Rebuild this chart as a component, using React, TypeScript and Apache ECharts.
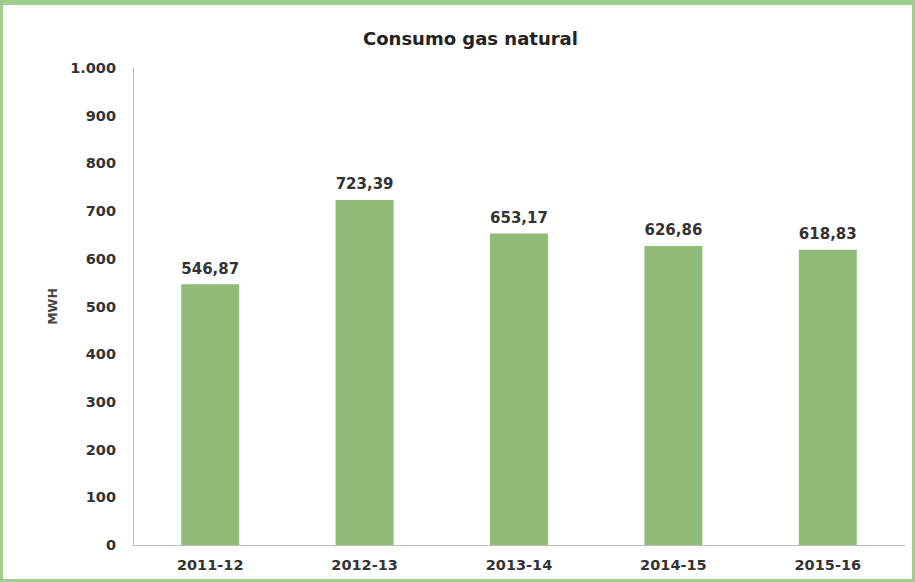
import React, { useEffect, useRef } from "react";
import * as echarts from "echarts";

const categories = ["2011-12", "2012-13", "2013-14", "2014-15", "2015-16"];
const values = [546.87, 723.39, 653.17, 626.86, 618.83];
const yTicks = [0, 100, 200, 300, 400, 500, 600, 700, 800, 900, 1000];

const fmtDec = (v: number) => v.toFixed(2).replace(".", ",");
const fmtInt = (v: number) => String(v).replace(/\B(?=(\d{3})+(?!\d))/g, ".");

export default function App() {
  const ref = useRef<HTMLDivElement>(null);
  useEffect(() => {
    document.body.style.margin = "0";
    const chart = echarts.init(ref.current!, null, { renderer: "svg" });
    chart.setOption({
      animation: false,
      backgroundColor: "#ffffff",
      title: {
        text: "Consumo gas natural",
        left: 355,
        top: 19,
        textStyle: { fontFamily: "DejaVu Sans", fontSize: 18, fontWeight: "bold", color: "#222" },
      },
      grid: { left: 130, right: 7, top: 63, bottom: 34 },
      xAxis: {
        type: "category",
        data: categories,
        axisLine: { lineStyle: { color: "#bdbdbd", width: 1 } },
        axisTick: { show: false },
        axisLabel: { fontFamily: "DejaVu Sans", fontSize: 14.5, fontWeight: "bold", color: "#333", margin: 12 },
      },
      yAxis: {
        type: "value",
        min: yTicks[0],
        max: yTicks[yTicks.length - 1],
        interval: 100,
        name: "MWH",
        nameLocation: "middle",
        nameGap: 74,
        nameTextStyle: { fontFamily: "DejaVu Sans", fontSize: 12.5, fontWeight: "bold", color: "#444" },
        axisLine: { show: true, lineStyle: { color: "#bdbdbd", width: 1 } },
        axisTick: { show: false },
        splitLine: { show: false },
        axisLabel: {
          fontFamily: "DejaVu Sans",
          fontSize: 14.5,
          fontWeight: "bold",
          color: "#333",
          margin: 17,
          formatter: (v: number) => fmtInt(v),
        },
      },
      series: [
        {
          type: "bar",
          data: values,
          barWidth: 58,
          itemStyle: { color: "#93bb78" },
          label: {
            show: true,
            position: "top",
            distance: 8,
            fontFamily: "DejaVu Sans",
            fontSize: 15,
            fontWeight: "bold",
            color: "#333",
            formatter: (p: any) => fmtDec(p.value),
          },
        },
      ],
    });
    return () => chart.dispose();
  }, []);
  return (
    <div
      style={{
        width: 915,
        height: 582,
        boxSizing: "border-box",
        border: "3px solid #9fcf8e",
        borderTopWidth: 5,
        background: "#fff",
      }}
    >
      <div ref={ref} style={{ width: 909, height: 574 }} />
    </div>
  );
}
